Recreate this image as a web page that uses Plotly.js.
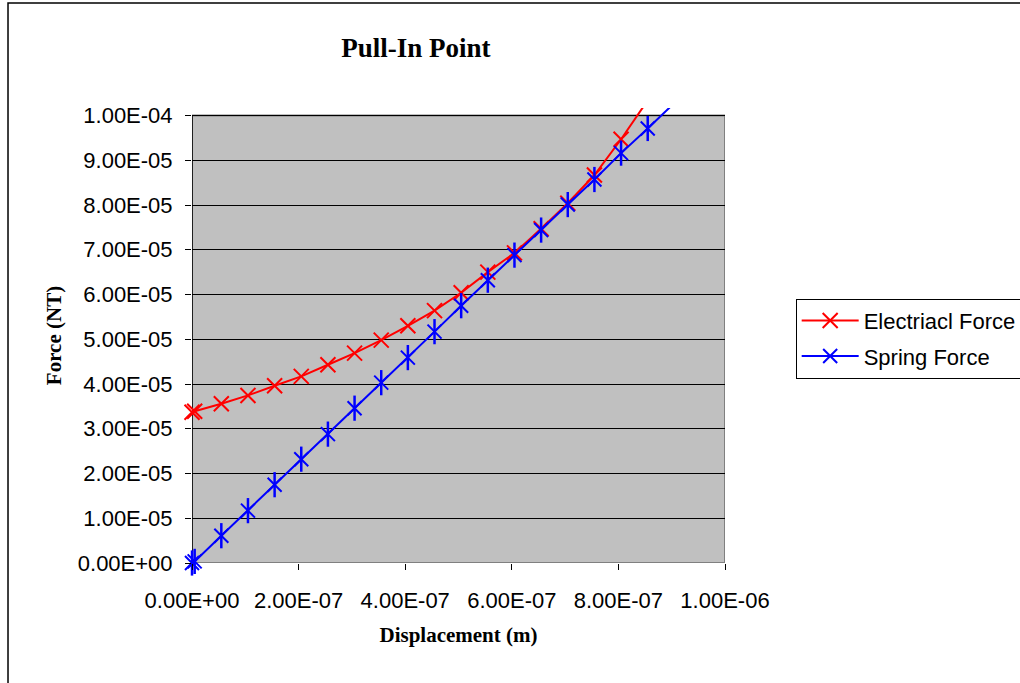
<!DOCTYPE html>
<html>
<head>
<meta charset="utf-8">
<script src="https://cdn.plot.ly/plotly-3.0.1.min.js"></script>
<style>html,body{margin:0;padding:0;background:#fff;}#chart{width:1020px;height:683px;}</style>
</head>
<body>
<div id="chart"></div>
<script>
// Displacement (m)
var displacement = [0, 5e-9, 5.5e-8, 1.05e-7, 1.55e-7, 2.05e-7, 2.55e-7, 3.05e-7, 3.55e-7, 4.05e-7,
  4.55e-7, 5.05e-7, 5.55e-7, 6.05e-7, 6.55e-7, 7.05e-7, 7.55e-7, 8.05e-7, 8.55e-7, 9.05e-7];
// Electrical force (NT)
var electricalForce = [3.37e-5, 3.39e-5, 3.56e-5, 3.745e-5, 3.96e-5, 4.17e-5, 4.43e-5, 4.69e-5, 4.98e-5, 5.30e-5,
  5.64e-5, 6.04e-5, 6.50e-5, 6.93e-5, 7.47e-5, 8.04e-5, 8.67e-5, 9.47e-5, 1.034e-4];
// Spring force (NT)
var springForce = [0, 3.6e-7, 6.1e-6, 1.17e-5, 1.75e-5, 2.32e-5, 2.88e-5, 3.46e-5, 4.03e-5, 4.59e-5,
  5.17e-5, 5.75e-5, 6.32e-5, 6.88e-5, 7.44e-5, 8.01e-5, 8.57e-5, 9.16e-5, 9.71e-5, 1.028e-4];

var xTickVals = [0, 2e-7, 4e-7, 6e-7, 8e-7, 1e-6];
var xTickText = ["0.00E+00", "2.00E-07", "4.00E-07", "6.00E-07", "8.00E-07", "1.00E-06"];
var yTickVals = [0, 1e-5, 2e-5, 3e-5, 4e-5, 5e-5, 6e-5, 7e-5, 8e-5, 9e-5, 1e-4];
var yTickText = ["0.00E+00", "1.00E-05", "2.00E-05", "3.00E-05", "4.00E-05", "5.00E-05",
  "6.00E-05", "7.00E-05", "8.00E-05", "9.00E-05", "1.00E-04"];

var yMax = 1e-4;
var sans = "Arial, 'Liberation Sans', sans-serif";
var serif = "'Times New Roman', 'Liberation Serif', serif";

function inside(ys) { var n = 0; while (n < ys.length && ys[n] <= yMax) n++; return n; }
var nE = inside(electricalForce), nS = inside(springForce);

var red = "#FF0000", blue = "#0000FF";
var traces = [
  {
    x: displacement.slice(nE - 1, electricalForce.length), y: electricalForce.slice(nE - 1),
    type: "scatter", mode: "lines", showlegend: false, legendgroup: "e", hoverinfo: "skip",
    line: {color: red, width: 2}
  },
  {
    x: displacement.slice(0, nE), y: electricalForce.slice(0, nE),
    name: "Electriacl Force", type: "scatter", mode: "lines+markers",
    legendgroup: "e", cliponaxis: false,
    line: {color: red, width: 2},
    marker: {symbol: "x-thin-open", size: 15, color: red, line: {color: red, width: 2}}
  },
  {
    x: displacement.slice(nS - 1, springForce.length), y: springForce.slice(nS - 1),
    type: "scatter", mode: "lines", showlegend: false, legendgroup: "s", hoverinfo: "skip",
    line: {color: blue, width: 2}
  },
  {
    x: displacement.slice(0, nS), y: springForce.slice(0, nS),
    type: "scatter", mode: "markers", showlegend: false, legendgroup: "s", cliponaxis: false,
    marker: {symbol: "line-ns", size: 18, color: blue, line: {color: blue, width: 2.5}}
  },
  {
    x: displacement.slice(0, nS), y: springForce.slice(0, nS),
    name: "Spring Force", type: "scatter", mode: "lines+markers",
    legendgroup: "s", cliponaxis: false,
    line: {color: blue, width: 2},
    marker: {symbol: "x-thin-open", size: 14, color: blue, line: {color: blue, width: 2}}
  }
];

var layout = {
  width: 1020, height: 683,
  margin: {l: 192, r: 295, t: 108, b: 120, autoexpand: false},
  paper_bgcolor: "#FFFFFF",
  plot_bgcolor: "rgba(0,0,0,0)",
  showlegend: true,
  title: {
    text: "<b>Pull-In Point</b>",
    font: {family: serif, size: 27, color: "#000"},
    x: 0.4078, xref: "container", xanchor: "center",
    y: 0.9297, yref: "container", yanchor: "middle"
  },
  xaxis: {
    range: [0, 1e-6],
    tickvals: xTickVals, ticktext: xTickText,
    showgrid: false, zeroline: false, showline: false,
    ticks: "outside", ticklen: 6, tickwidth: 1, tickcolor: "#000",
    ticklabelstandoff: 12,
    tickfont: {family: sans, size: 22, color: "#000"},
    title: {text: "<b>Displacement (m)</b>", font: {family: serif, size: 21, color: "#000"}, standoff: 14},
    fixedrange: true
  },
  yaxis: {
    range: [0, 1.0168e-4],
    tickvals: yTickVals, ticktext: yTickText,
    showgrid: true, gridcolor: "#000", gridwidth: 1,
    zeroline: false, showline: false,
    ticks: "outside", ticklen: 6, tickwidth: 1, tickcolor: "#000",
    ticklabelstandoff: 8,
    tickfont: {family: sans, size: 22, color: "#000"},
    title: {text: "<b>Force (NT)</b>", font: {family: serif, size: 21, color: "#000"}, standoff: 10},
    fixedrange: true
  },
  legend: {
    x: 1.1326, xanchor: "left", y: 0.581, yanchor: "top",
    bgcolor: "#FFFFFF", bordercolor: "#000", borderwidth: 1,
    font: {family: sans, size: 22, color: "#000"},
    tracegroupgap: 4, itemwidth: 57, traceorder: "grouped"
  },
  shapes: [
    {type: "rect", xref: "x", yref: "y", x0: 0, x1: 1e-6, y0: 0, y1: yMax,
      fillcolor: "#C0C0C0", line: {width: 0}, layer: "below"},
    {type: "rect", xref: "x", yref: "y", x0: 0, x1: 1e-6, y0: 0, y1: yMax,
      fillcolor: "rgba(0,0,0,0)", line: {color: "#808080", width: 2}, layer: "below"},
    {type: "line", xref: "x", yref: "y", x0: 0, x1: 0, y0: 0, y1: yMax,
      line: {color: "#000", width: 1.5}, layer: "below"},
    {type: "rect", xref: "paper", yref: "paper", x0: -0.3452, x1: 2, y0: -1, y1: 1.2308,
      fillcolor: "rgba(0,0,0,0)", line: {color: "#000", width: 1.5}, layer: "above"}
  ]
};

Plotly.newPlot("chart", traces, layout, {displayModeBar: false, staticPlot: true});
</script>
</body>
</html>
